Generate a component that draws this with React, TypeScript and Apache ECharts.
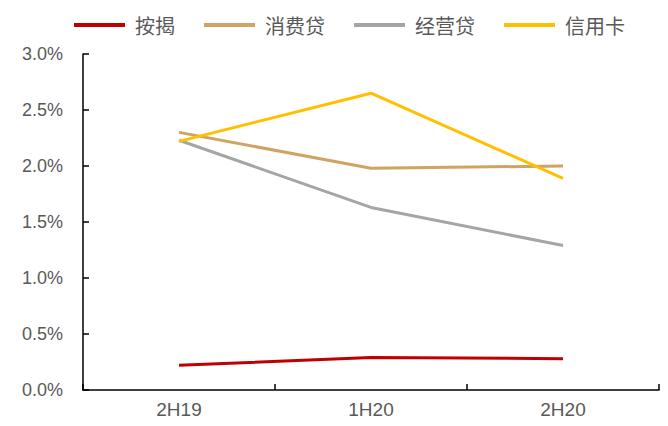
import React, { useEffect, useRef } from "react";
import * as echarts from "echarts";

const categories = ["2H19", "1H20", "2H20"];
const seriesNames = ["按揭", "消费贷", "经营贷", "信用卡"];
const mortgage = [0.22, 0.29, 0.28];
const consumer = [2.3, 1.98, 2.0];
const business = [2.23, 1.63, 1.29];
const creditCard = [2.22, 2.65, 1.89];
const colors = ["#C00000", "#CFA463", "#A5A5A5", "#FFC000"];
const yTicks = { min: 0, max: 3, interval: 0.5 };

export default function App() {
  const ref = useRef<HTMLDivElement>(null);
  useEffect(() => {
    if (!ref.current) return;
    const chart = echarts.init(ref.current, null, { renderer: "svg" });
    const dataSets = [mortgage, consumer, business, creditCard];
    chart.setOption({
      animation: false,
      color: colors,
      legend: {
        top: 10,
        left: 69,
        itemWidth: 51,
        itemHeight: 4,
        itemGap: 29,
        icon: "rect",
        textStyle: {
          fontFamily: "Noto Sans CJK SC",
          fontSize: 20,
          color: "#595959",
          padding: [0, 0, 0, 5],
        },
        data: seriesNames,
      },
      grid: { left: 83, right: 9, top: 54, bottom: 36, containLabel: false },
      xAxis: {
        type: "category",
        data: categories,
        boundaryGap: true,
        axisLine: { show: true, lineStyle: { color: "#000", width: 1.5 } },
        axisTick: { show: true, inside: true, length: 6, lineStyle: { color: "#000", width: 1.5 } },
        axisLabel: {
          color: "#595959",
          fontFamily: "Liberation Sans",
          fontSize: 19,
          margin: 10,
        },
        splitLine: { show: false },
      },
      yAxis: {
        type: "value",
        min: yTicks.min,
        max: yTicks.max,
        interval: yTicks.interval,
        axisLine: { show: true, lineStyle: { color: "#000", width: 1.5 } },
        axisTick: { show: true, inside: true, length: 6, lineStyle: { color: "#000", width: 1.5 } },
        axisLabel: {
          color: "#595959",
          fontFamily: "Liberation Sans",
          fontSize: 18,
          margin: 20,
          formatter: (v: number) => v.toFixed(1) + "%",
        },
        splitLine: { show: false },
      },
      series: seriesNames.map((name, i) => ({
        name,
        type: "line",
        data: dataSets[i],
        symbol: "none",
        lineStyle: { width: 3, color: colors[i] },
        itemStyle: { color: colors[i] },
      })),
    });
    return () => chart.dispose();
  }, []);
  return <div ref={ref} style={{ width: 668, height: 426, margin: -8 }} />;
}
